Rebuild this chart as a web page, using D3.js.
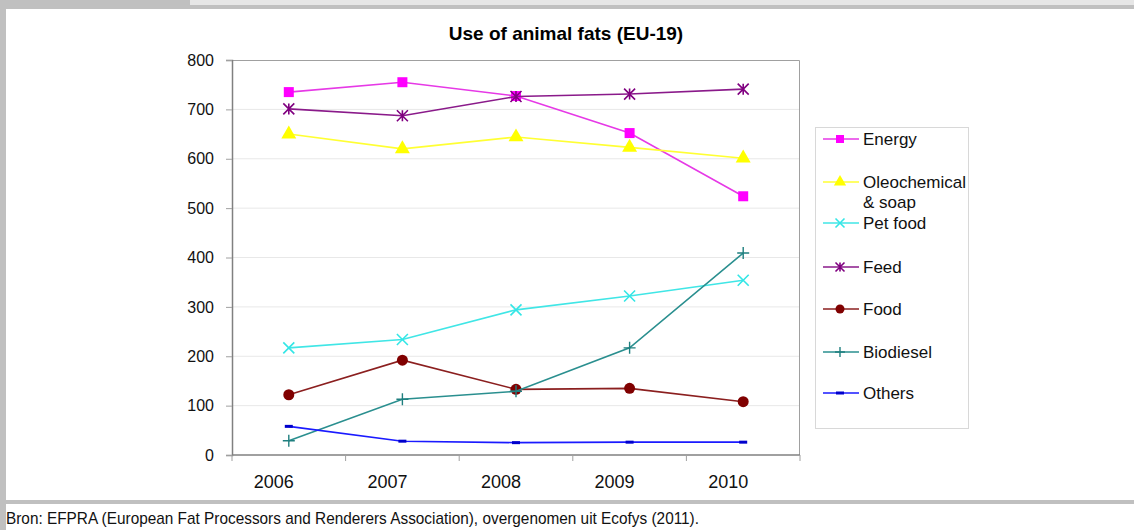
<!DOCTYPE html>
<html>
<head>
<meta charset="utf-8">
<script src="https://cdn.jsdelivr.net/npm/d3@7"></script>
<style>
  html, body { margin: 0; padding: 0; background: #fff; }
  svg { display: block; font-family: "Liberation Sans", Arial, sans-serif; }
</style>
</head>
<body>
<svg id="chart" width="1134" height="530"></svg>
<script>
// Use of animal fats in the EU-19, kilotonnes per year
const years = ["2006", "2007", "2008", "2009", "2010"];
const yTicks = [0, 100, 200, 300, 400, 500, 600, 700, 800];

const energy       = [735, 755, 727, 652, 524];
const oleochemical = [650, 620, 644, 623, 601];
const petFood      = [217, 234, 294, 322, 354];
const feed         = [701, 687, 726, 731, 741];
const food         = [122, 192, 133, 135, 108];
const biodiesel    = [29, 113, 129, 217, 409];
const others       = [58, 28, 25, 26, 26];

const seriesNames = ["Energy", "Oleochemical\n& soap", "Pet food", "Feed", "Food", "Biodiesel", "Others"];

const series = [
  { name: seriesNames[0], values: energy,       line: "#e639e6", fill: "#ff00ff", marker: "square" },
  { name: seriesNames[1], values: oleochemical, line: "#ffff33", fill: "#ffff00", marker: "triangle" },
  { name: seriesNames[2], values: petFood,      line: "#40e6e6", fill: "#33e6e6", marker: "cross" },
  { name: seriesNames[3], values: feed,         line: "#8a1a8a", fill: "#800080", marker: "star" },
  { name: seriesNames[4], values: food,         line: "#8b1f1f", fill: "#800000", marker: "circle" },
  { name: seriesNames[5], values: biodiesel,    line: "#2a8f8f", fill: "#1f7f7f", marker: "plus" },
  { name: seriesNames[6], values: others,       line: "#1a1aff", fill: "#0000cc", marker: "dash" }
];

const svg = d3.select("#chart");

// Page frame
svg.append("rect").attr("x", 0).attr("y", 0).attr("width", 190).attr("height", 6).attr("fill", "#c0c0c0");
svg.append("rect").attr("x", 190).attr("y", 0).attr("width", 944).attr("height", 5).attr("fill", "#e6e6e6");
svg.append("rect").attr("x", 0).attr("y", 5).attr("width", 1134).attr("height", 4).attr("fill", "#c0c0c0");
svg.append("rect").attr("x", 0).attr("y", 0).attr("width", 6).attr("height", 530).attr("fill", "#c0c0c0");
svg.append("rect").attr("x", 0).attr("y", 500).attr("width", 1134).attr("height", 4).attr("fill", "#c0c0c0");

const plot = { left: 232, right: 800, top: 60, bottom: 455 };

const x = d3.scaleBand().domain(years).range([plot.left, plot.right]);
const y = d3.scaleLinear().domain([0, 800]).range([plot.bottom, plot.top]);

// Title
svg.append("text")
  .attr("x", 566).attr("y", 40)
  .attr("text-anchor", "middle")
  .attr("font-size", 19).attr("font-weight", "bold").attr("fill", "#000")
  .text("Use of animal fats (EU-19)");

// Gridlines
svg.append("g").selectAll("line")
  .data(yTicks.filter(d => d > 0 && d < 800))
  .join("line")
  .attr("x1", plot.left).attr("x2", plot.right)
  .attr("y1", d => y(d)).attr("y2", d => y(d))
  .attr("stroke", "#e8e8e8").attr("stroke-width", 1);

// Plot border (top and right)
svg.append("path")
  .attr("d", `M${plot.left},${plot.top + 0.5}H${plot.right - 0.5}V${plot.bottom}`)
  .attr("fill", "none").attr("stroke", "#a0a0a0").attr("stroke-width", 1);

// Y axis
const yAxis = svg.append("g")
  .attr("transform", `translate(${plot.left},0)`)
  .call(d3.axisLeft(y).tickValues(yTicks).tickSize(6).tickPadding(12));
yAxis.select(".domain").attr("stroke", "#808080").attr("stroke-width", 1.5);
yAxis.selectAll(".tick line").attr("stroke", "#a0a0a0");
yAxis.selectAll(".tick text")
  .attr("font-size", 16).attr("fill", "#111")
  .attr("font-family", "Liberation Sans, Arial, sans-serif");

// X axis: tick marks at category boundaries, labels under each category
const xAxisG = svg.append("g").attr("transform", `translate(0,${plot.bottom})`);
xAxisG.append("line")
  .attr("x1", plot.left).attr("x2", plot.right)
  .attr("stroke", "#808080").attr("stroke-width", 1.5);
xAxisG.selectAll("line.tk")
  .data(years.concat(["end"]))
  .join("line").attr("class", "tk")
  .attr("x1", (d, i) => plot.left + i * x.bandwidth())
  .attr("x2", (d, i) => plot.left + i * x.bandwidth())
  .attr("y1", 0).attr("y2", 6)
  .attr("stroke", "#a0a0a0");
xAxisG.selectAll("text")
  .data(years)
  .join("text")
  .attr("x", d => x(d) + x.bandwidth() / 2 - 15)
  .attr("y", 33)
  .attr("text-anchor", "middle")
  .attr("font-size", 18).attr("fill", "#111")
  .text(d => d);

// Marker drawing
function drawMarker(g, type, color, size) {
  const s = size;
  switch (type) {
    case "square":
      g.append("rect").attr("x", -s / 2).attr("y", -s / 2).attr("width", s).attr("height", s).attr("fill", color);
      break;
    case "triangle":
      g.append("path").attr("d", d3.symbol(d3.symbolTriangle, s * s * 0.8)()).attr("fill", color);
      break;
    case "cross":
      g.append("path").attr("d", `M${-s/2},${-s/2}L${s/2},${s/2}M${-s/2},${s/2}L${s/2},${-s/2}`)
        .attr("stroke", color).attr("stroke-width", 1.6).attr("fill", "none");
      break;
    case "star":
      g.append("path").attr("d", `M${-s/2},${-s/2}L${s/2},${s/2}M${-s/2},${s/2}L${s/2},${-s/2}M0,${-s/2}L0,${s/2}`)
        .attr("stroke", color).attr("stroke-width", 1.6).attr("fill", "none");
      break;
    case "circle":
      g.append("circle").attr("r", s / 2).attr("fill", color);
      break;
    case "plus":
      g.append("path").attr("d", `M${-s/2},0L${s/2},0M0,${-s/2}L0,${s/2}`)
        .attr("stroke", color).attr("stroke-width", 1.4).attr("fill", "none");
      break;
    case "dash":
      g.append("rect").attr("x", -4).attr("y", -1.5).attr("width", 8).attr("height", 3).attr("fill", color);
      break;
  }
}

const line = d3.line()
  .x((d, i) => x(years[i]) + x.bandwidth() / 2)
  .y(d => y(d));

const markerSize = { square: 10, triangle: 11, cross: 11, star: 11, circle: 11, plus: 12, dash: 8 };

// Series lines and markers
series.forEach(s => {
  svg.append("path")
    .datum(s.values)
    .attr("d", line)
    .attr("fill", "none")
    .attr("stroke", s.line)
    .attr("stroke-width", 1.6);
  s.values.forEach((v, i) => {
    const g = svg.append("g")
      .attr("transform", `translate(${x(years[i]) + x.bandwidth() / 2},${y(v)})`);
    drawMarker(g, s.marker, s.fill, markerSize[s.marker]);
  });
});

// Legend
const legend = svg.append("g");
legend.append("rect")
  .attr("x", 815.5).attr("y", 127.5).attr("width", 153).attr("height", 301)
  .attr("fill", "#fff").attr("stroke", "#d8d8d8");

const legendY = [139, 182, 223, 267, 309, 352, 393];
series.forEach((s, i) => {
  const ly = legendY[i];
  legend.append("line")
    .attr("x1", 823).attr("x2", 859).attr("y1", ly).attr("y2", ly)
    .attr("stroke", s.line).attr("stroke-width", 1.6);
  const g = legend.append("g").attr("transform", `translate(840,${ly})`);
  drawMarker(g, s.marker, s.fill, Math.max(markerSize[s.marker] - 2, 7));
  const t = legend.append("text")
    .attr("x", 863).attr("y", ly + 6)
    .attr("font-size", 17).attr("fill", "#111");
  s.name.split("\n").forEach((part, k) => {
    t.append("tspan").attr("x", 863).attr("dy", k === 0 ? 0 : 20).text(part);
  });
});

// Source note (condensed)
svg.append("text")
  .attr("x", 6).attr("y", 524)
  .attr("font-size", 17)
  .attr("textLength", 693)
  .attr("lengthAdjust", "spacingAndGlyphs")
  .attr("fill", "#111")
  .text("Bron: EFPRA (European Fat Processors and Renderers Association), overgenomen uit Ecofys (2011).");
</script>
</body>
</html>
